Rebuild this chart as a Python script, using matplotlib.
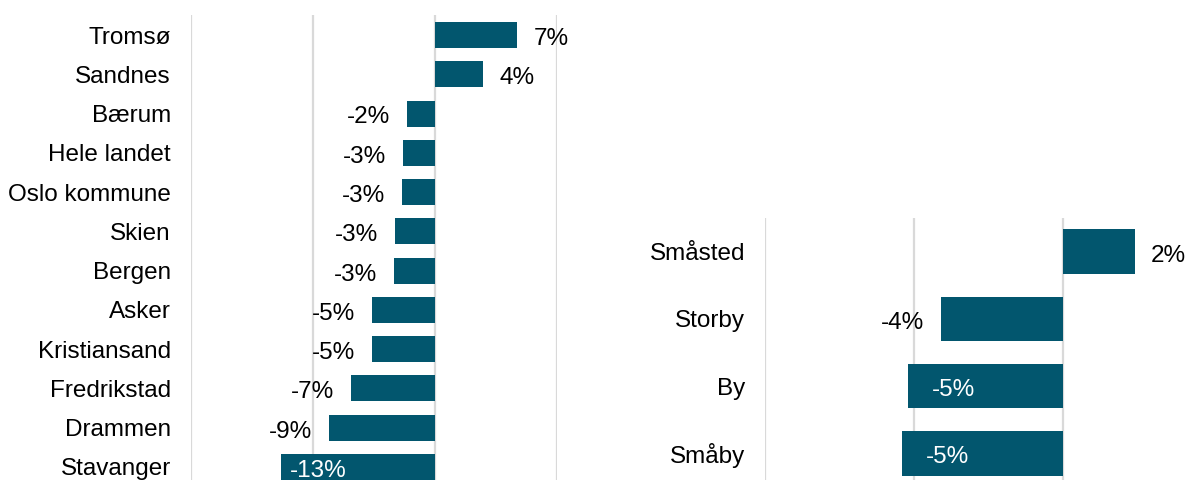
import matplotlib
matplotlib.use("Agg")
import matplotlib.pyplot as plt

# ---- data ----
left_categories = ["Tromsø", "Sandnes", "Bærum", "Hele landet", "Oslo kommune", "Skien",
                   "Bergen", "Asker", "Kristiansand", "Fredrikstad", "Drammen", "Stavanger"]
left_values = [0.067, 0.039, -0.023, -0.026, -0.027, -0.033,
               -0.034, -0.052, -0.052, -0.069, -0.087, -0.126]

right_categories = ["Småsted", "Storby", "By", "Småby"]
right_values = [0.024, -0.041, -0.052, -0.054]

left_ticks = [-0.2, -0.1, 0.0, 0.1]
right_ticks = [-0.10, -0.05, 0.0, 0.05]

BAR = "#02566E"
GRID = "#D9D9D9"
FS = 17.5
plt.rcParams['font.family'] = ['Liberation Sans', 'DejaVu Sans']

fig = plt.figure(figsize=(12, 4.8), dpi=100)
W, H = 1200, 480


def make_axes(x0, x1, y0, y1):
    return fig.add_axes([x0 / W, 1 - y1 / H, (x1 - x0) / W, (y1 - y0) / H])


def draw(ax, cats, vals, ticks, xlim, inside_thresh, inside_px):
    n = len(cats)
    pos = list(range(n))
    ax.barh(pos, vals, height=0.66, color=BAR, zorder=3)
    ax.set_xlim(*xlim)
    ax.set_ylim(n - 0.5, -0.5)
    ax.set_xticks(ticks)
    ax.set_xticklabels([])
    ax.tick_params(axis='x', length=0)
    ax.grid(axis='x', color=GRID, linewidth=1.6, zorder=0)
    ax.set_axisbelow(True)
    ax.set_yticks(pos)
    ax.set_yticklabels(cats, fontsize=FS, color="black")
    ax.tick_params(axis='y', length=0, pad=14.4)
    for s in ax.spines.values():
        s.set_visible(False)
    for p, v in zip(pos, vals):
        txt = f"{round(v * 100):d}%"
        if v < inside_thresh:
            ax.annotate(txt, (v, p), xytext=(inside_px * 0.72, -1), textcoords='offset points',
                        ha='left', va='center_baseline', fontsize=FS, color='white', zorder=4)
        elif v >= 0:
            ax.annotate(txt, (v, p), xytext=(12, -1), textcoords='offset points',
                        ha='left', va='center_baseline', fontsize=FS, color='black', zorder=4)
        else:
            ax.annotate(txt, (v, p), xytext=(-12, -1), textcoords='offset points',
                        ha='right', va='center_baseline', fontsize=FS, color='black', zorder=4)


axL = make_axes(191, 557, 15.4, 486.6)
draw(axL, left_categories, left_values, left_ticks, (-0.2, 0.1), -0.10, 9)

axR = make_axes(765, 1212, 218, 487)
draw(axR, right_categories, right_values, right_ticks, (-0.10, 0.05), -0.05, 24)

fig.savefig("out.png", dpi=100)
